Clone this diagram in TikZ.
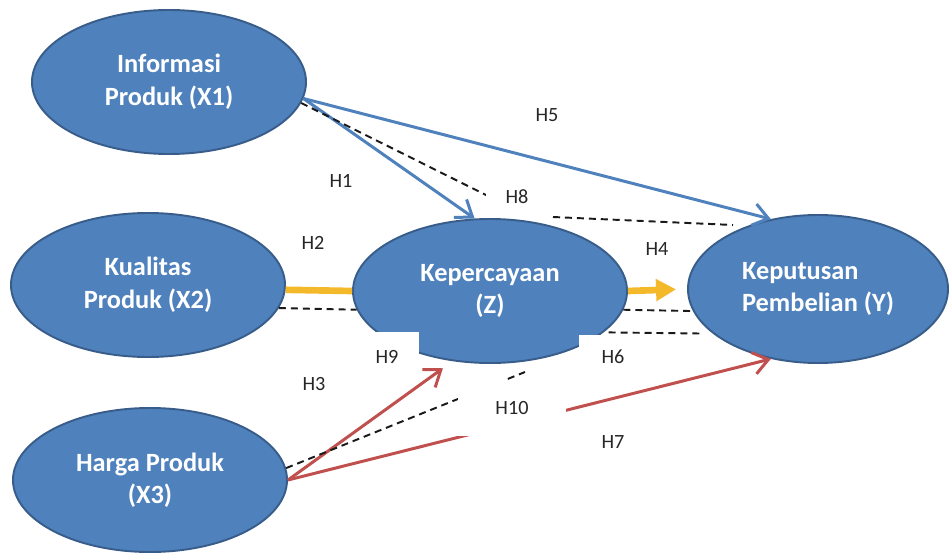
\documentclass[tikz,border=0pt]{standalone}
\usepackage{fontspec}
\setmainfont{Carlito}
\usetikzlibrary{arrows.meta,shapes.geometric}

\definecolor{varblue}{HTML}{4F81BD}
\definecolor{varedge}{HTML}{385D8A}
\definecolor{pathred}{HTML}{C0504D}
\definecolor{pathgold}{HTML}{F4B92A}

\begin{document}
\begin{tikzpicture}[
  var/.style={ellipse, draw=varedge, fill=varblue, line width=1.1pt,
              minimum width=5.48cm, minimum height=2.88cm, inner sep=0pt,
              align=center, text=white,
              font=\fontsize{15}{18.5}\selectfont\bfseries},
  hyp/.style={font=\fontsize{11.5}{13}\selectfont, text=black!85,
              fill=white, inner sep=1pt},
  blu/.style={-{Straight Barb[length=3mm,width=4.4mm]}, line width=1.7pt, draw=varblue},
  rdp/.style={-{Straight Barb[length=3mm,width=4.4mm]}, line width=1.7pt, draw=pathred},
  gld/.style={line width=3.8pt, draw=pathgold},
  ind/.style={dash pattern=on 4pt off 2.8pt, line width=1.1pt, draw=black!90},
]
\useasboundingbox (0,0) rectangle (19,-11.06);

% three columns of constructs, exogenous ones on the left
\def\colL{3}
\def\colM{9.8}
\def\colR{16.36}
\def\rowT{-1.64}
\def\rowM{-5.76}
\def\rowB{-9.6}

\node[var] (x1) at ({\colL+0.38},\rowT) {Informasi\\Produk (X1)};
\node[var] (x2) at ({\colL-0.04},{\rowM+0.06}) {Kualitas\\Produk (X2)};
\node[var] (z)  at (\colM,{\rowM-0.06}) {Kepercayaan\\(Z)};
\node[var, minimum width=5.2cm, minimum height=2.96cm, align=left]
      (y) at (\colR,{\rowM-0.02}) {Keputusan\\Pembelian (Y)};
\node[var] (x3) at (\colL,\rowB) {Harga Produk\\(X3)};

% free ends of the dashed (indirect) paths
\coordinate (d1) at (10.0,-4.04);
\coordinate (d2) at (11.06,-4.34);
\coordinate (d3) at (14.66,-4.50);
\coordinate (d4) at (10.5,-7.44);

% direct effects
\draw[blu] (x1.-7) -- (z.102);
\draw[blu] (x1.-7) -- (y.124);
\draw[gld] (x2.-2) -- (z.west);
\draw[gld, -{Triangle[length=4mm,width=4.2mm]}, shorten >=0.22cm] (z.east) -- (y.west);
\draw[rdp, shorten >=0.24cm] (x3.east) -- (z.242);
\draw[rdp] (x3.east) -- (y.236);

% indirect effects through Z
\draw[ind] (x1.-9) -- (d1);
\draw[ind] (d2) -- (d3);
\draw[ind] (x2.-10) -- (z.188);
\draw[ind] (z.-8) -- (y.190);
\draw[ind, shorten <=0.1cm, shorten >=0.18cm] (z.-20) -- (y.203);
\draw[ind] (x3.5) -- (d4);

% hypothesis labels
\node[hyp] (h5) at (10.94,-2.30) {H5};
\node[hyp] (h1) at (6.82,-3.62) {H1};
\node[hyp, minimum width=1.24cm, minimum height=0.8cm] (h8) at (10.34,-3.94) {H8};
\node[hyp] (h2) at (6.26,-4.86) {H2};
\node[hyp] (h4) at (13.14,-4.98) {H4};
\node[hyp, minimum width=1.28cm, minimum height=1.0cm] (h9) at (7.74,-7.14) {H9};
\node[hyp, minimum width=1.36cm, minimum height=0.88cm] (h6) at (12.26,-7.14) {H6};
\node[hyp] (h3) at (6.28,-7.68) {H3};
\node[hyp, minimum width=2.16cm, minimum height=1.12cm] (h10) at (10.24,-8.16) {H10};
\node[hyp] (h7) at (12.26,-8.84) {H7};

\end{tikzpicture}
\end{document}
